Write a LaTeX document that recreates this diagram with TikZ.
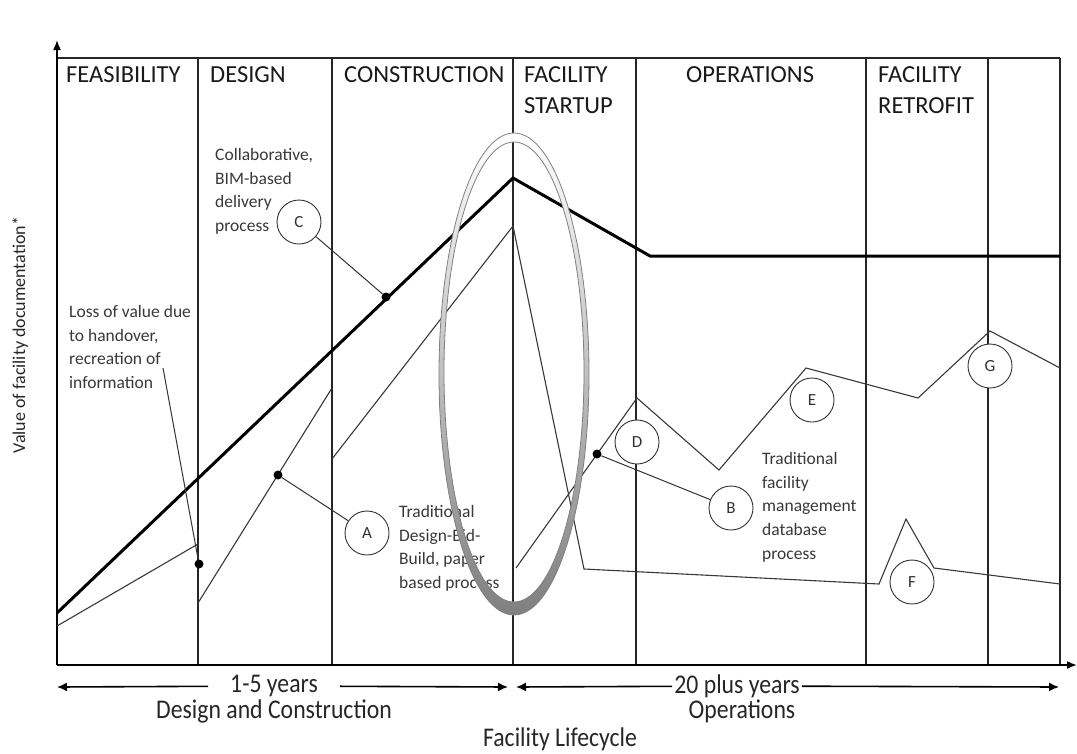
\documentclass[tikz,border=0pt]{standalone}
\usepackage{fontspec}
\setmainfont{Carlito}
\usetikzlibrary{arrows.meta}
\begin{document}
\begin{tikzpicture}[x=1pt,y=-1pt,
  phase/.style={anchor=north west, inner sep=0pt, align=left, text=black!90,
    font=\fontsize{24.5}{31}\selectfont},
  note/.style={anchor=north west, inner sep=0pt, align=left, text=black!78,
    font=\fontsize{17.5}{23.8}\selectfont},
  tag/.style={circle, draw=black!80, fill=white, line width=0.9pt, minimum size=44pt,
    inner sep=0pt, text=black!80, font=\fontsize{17}{17}\selectfont},
  pin/.style={circle, fill=black, inner sep=0pt, minimum size=9pt},
  divider/.style={line width=1.2pt, black!85},
  trad/.style={line width=1.1pt, black!78, line join=miter},
  bim/.style={line width=3pt, black, line join=miter},
  leader/.style={line width=1pt, black!80},
  axis/.style={line width=1.6pt, black},
  tip/.style={-{Latex[length=10pt,width=9pt]}},
  axtext/.style={inner sep=0pt, text=black!85, font=\fontsize{27}{30}\selectfont},
  ring/.style={line width=0.8pt, black!50},
]
\useasboundingbox (0,0) rectangle (1077,753);

% ---------- axes and phase frame ----------
\coordinate (O) at (57,665);
\coordinate (ytop) at (57,40);
\coordinate (xend) at (1077,665);
\draw[divider] (57,58) -- (1060,58);
\foreach \x in {198,332,513,636,866,988,1060}
  \draw[divider] (\x,58) -- (\x,665);
\draw[axis,-{Latex[length=10pt,width=8pt]}] (O) -- (ytop);
\draw[axis,-{Latex[length=10pt,width=8pt]}] (O) -- (xend);

% ---------- phase headings ----------
\node[phase] (feas)  at (66,66)  {FEASIBILITY};
\node[phase] (des)   at (210,66) {DESIGN};
\node[phase] (cons)  at (344,66) {CONSTRUCTION};
\node[phase] (start) at (524,66) {FACILITY\\STARTUP};
\node[phase] (ops)   at (686,66) {OPERATIONS};
\node[phase] (retro) at (878,66) {FACILITY\\RETROFIT};

% ---------- value curves ----------
\draw[bim] (57,613) -- (513,178) -- (650,256) -- (1060,256);
\draw[trad] (57,626) -- (198,544);
\draw[trad] (198,603) -- (332,388);
\draw[trad] (332,459) -- (513,226) -- (584,569) -- (879,584) -- (906,519)
  -- (934,568) -- (1060,584);
\draw[trad] (516,568) -- (637,398) -- (719,470) -- (806,368) -- (918,398)
  -- (990,331) -- (1060,368);

% ---------- annotations ----------
\node[note] (collab) at (215,148) {Collaborative,\\BIM-based\\delivery\\process};
\node[note] (loss) at (69,305) {Loss of value due\\to handover,\\recreation of\\information};
\node[note] (tradA) at (399,505) {Traditional\\Design-Bid-\\Build, paper\\based process};
\node[note] (tradB) at (762,452) {Traditional\\facility\\management\\database\\process};

\node[pin] (hdot) at (199,564) {};
\node[pin] (adot) at (278,475) {};
\node[pin] (cdot) at (386,297) {};
\node[pin] (bdot) at (597,454) {};
\coordinate (lossfrom) at (163,368);

% ---------- highlight ring around the handover ----------
\shade[even odd rule, top color=white, middle color=black!22, bottom color=black!50]
  (514,374) ellipse [x radius=75, y radius=241]
  (514,372) ellipse [x radius=70, y radius=230];
\draw[ring] (514,374) ellipse [x radius=75, y radius=241];
\draw[ring] (514,372) ellipse [x radius=70, y radius=230];

% ---------- lettered markers ----------
\node[tag] (A) at (367,533) {A};
\node[tag] (B) at (731,508) {B};
\node[tag] (C) at (299,222) {C};
\node[tag] (D) at (637,442) {D};
\node[tag] (E) at (812,400) {E};
\node[tag] (F) at (912,582) {F};
\node[tag] (G) at (990,366) {G};

\draw[leader] (lossfrom) -- (hdot);
\draw[leader] (adot) -- (A);
\draw[leader] (C) -- (cdot);
\draw[leader] (bdot) -- (B);

% ---------- time spans ----------
\coordinate (s1a) at (57,687);
\coordinate (s1b) at (508,687);
\coordinate (s2a) at (516,687);
\coordinate (s2b) at (1059,687);
\node[axtext, inner xsep=22pt, inner ysep=2pt] (yrs1) at (274,686) {\scalebox{0.88}[1]{1-5 years}};
\node[axtext, inner xsep=2pt, inner ysep=2pt] (yrs2) at (737,686) {\scalebox{0.88}[1]{20 plus years}};
\draw[axis,tip] (yrs1) -- (s1a);
\draw[axis,tip] (yrs1) -- (s1b);
\draw[axis,tip] (yrs2) -- (s2a);
\draw[axis,tip] (yrs2) -- (s2b);
\node[axtext, anchor=base] (dc) at (274,718) {\scalebox{0.88}[1]{Design and Construction}};
\node[axtext, anchor=base] (opl) at (742,718) {\scalebox{0.88}[1]{Operations}};
\node[axtext, anchor=base] (life) at (560,746) {\scalebox{0.88}[1]{Facility Lifecycle}};

% ---------- vertical axis title ----------
\node[rotate=90, anchor=base, inner sep=0pt, text=black!85,
  font=\fontsize{18}{18}\selectfont] (ylab) at (25,335) {Value of facility documentation*};
\end{tikzpicture}
\end{document}
